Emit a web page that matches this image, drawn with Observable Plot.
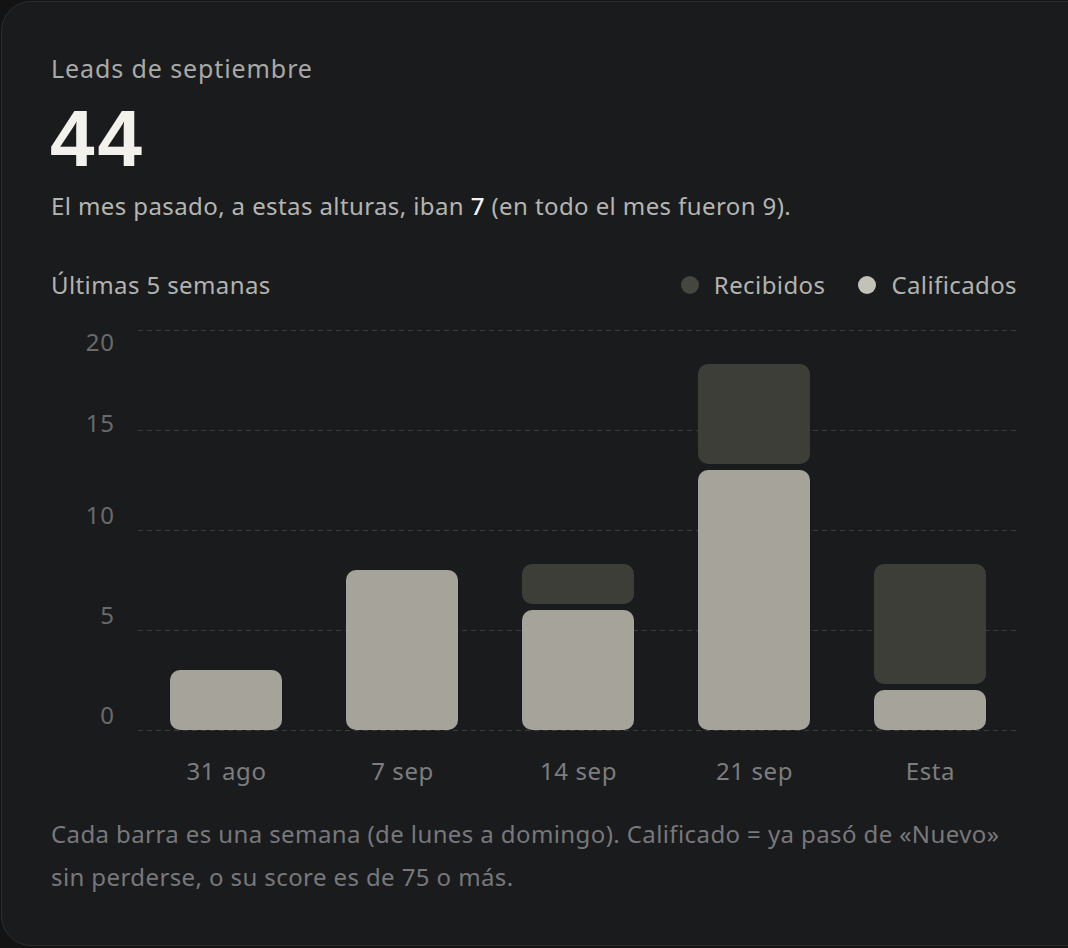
<!DOCTYPE html>
<html>
<head>
<meta charset="utf-8">
<script src="https://cdn.jsdelivr.net/npm/d3@7"></script>
<script src="https://cdn.jsdelivr.net/npm/@observablehq/plot@0.6"></script>
<style>
  html, body { margin: 0; padding: 0; background: #131314; width: 1068px; height: 948px; overflow: hidden; }
  .card { position: absolute; left: 1px; top: 1px; width: 1100px; height: 945px; box-sizing: border-box;
          border: 1.5px solid #2c2d2f; border-radius: 30px; background: #1a1b1d; }
  .t { position: absolute; font-family: "Noto Sans", sans-serif; white-space: nowrap; line-height: 1; letter-spacing: 0.4px; }
  #title { left: 51px; top: 56px; font-size: 25px; color: #a9a9a6; letter-spacing: 0.9px; }
  #big { left: 50px; top: 99px; font-family: "Liberation Sans", Arial, sans-serif; font-weight: 700; font-size: 80px; color: #f2f1ec; letter-spacing: 3px; }
  #sub { left: 51px; top: 194px; font-size: 24px; color: #b5b5b0; }
  #sub b { color: #f4f3ee; font-weight: 500; }
  #last { left: 51px; top: 273px; font-size: 24px; color: #b3b3ae; }
  #legend { right: 51px; top: 273px; font-size: 24px; color: #b3b3ae; display: flex; gap: 33px; }
  #legend span.item { display: flex; align-items: center; gap: 15px; }
  #legend i { display: inline-block; width: 18px; height: 18px; border-radius: 50%; }
  #chart { position: absolute; left: 0; top: 300px; }
  #caption { left: 51px; top: 812px; font-size: 24px; color: #78787a; line-height: 43px; white-space: normal; width: 1000px; }
</style>
</head>
<body>
<div class="card"></div>
<div class="t" id="title">Leads de septiembre</div>
<div class="t" id="big">44</div>
<div class="t" id="sub">El mes pasado, a estas alturas, iban <b>7</b> (en todo el mes fueron 9).</div>
<div class="t" id="last">Últimas 5 semanas</div>
<div class="t" id="legend"></div>
<div id="chart"></div>
<div class="t" id="caption">Cada barra es una semana (de lunes a domingo). Calificado = ya pasó de «Nuevo»<br>sin perderse, o su score es de 75 o más.</div>
<script>
// ---- data ----
const weeks = ["31 ago", "7 sep", "14 sep", "21 sep", "Esta"];
const calificados = [3, 8, 6, 13, 2];
const recibidos = [3, 8, 8, 18, 8];
const yTicks = [0, 5, 10, 15, 20];
const seriesNames = ["Recibidos", "Calificados"];
const seriesColors = ["#45463f", "#c3c1b8"];

const rows = weeks.map((w, i) => ({week: w, calificados: calificados[i], recibidos: recibidos[i]}));
const extra = rows.filter(d => d.recibidos > d.calificados);

// legend
const legend = document.getElementById("legend");
seriesNames.forEach((n, i) => {
  const s = document.createElement("span");
  s.className = "item";
  s.innerHTML = `<i style="background:${seriesColors[i]}"></i>${n}`;
  legend.appendChild(s);
});

const chart = Plot.plot({
  width: 1068,
  height: 500,
  marginTop: 30,
  marginBottom: 70,
  marginLeft: 138,
  marginRight: 50,
  style: {background: "transparent", fontFamily: "'Noto Sans', sans-serif", fontSize: "24px", letterSpacing: "0.6px", color: "#7d7d7d", overflow: "visible"},
  x: {domain: weeks, padding: 0, label: null},
  y: {domain: [0, 20], label: null},
  marks: [
    Plot.ruleY(yTicks, {stroke: "#3a3b3d", strokeWidth: 1.2, strokeDasharray: "5,4"}),
    Plot.barY(rows, {x: "week", y1: 0, y2: "calificados", fill: "#a6a39b", insetLeft: 32, insetRight: 32, rx: 10}),
    Plot.barY(extra, {x: "week", y1: "calificados", y2: "recibidos", fill: "#3d3e37", insetLeft: 32, insetRight: 32, insetTop: -6, insetBottom: 6, rx: 10}),
    Plot.axisY([20], {tickSize: 0, tickPadding: 24, color: "#6a6a6a", dy: 13, label: null}),
    Plot.axisY([15], {tickSize: 0, tickPadding: 24, color: "#6a6a6a", dy: -6, label: null}),
    Plot.axisY([0, 5, 10], {tickSize: 0, tickPadding: 24, color: "#6a6a6a", dy: -14, label: null}),
    Plot.axisX({tickSize: 0, tickPadding: 32, color: "#7d7d7d", label: null})
  ]
});
document.getElementById("chart").appendChild(chart);
</script>
</body>
</html>
